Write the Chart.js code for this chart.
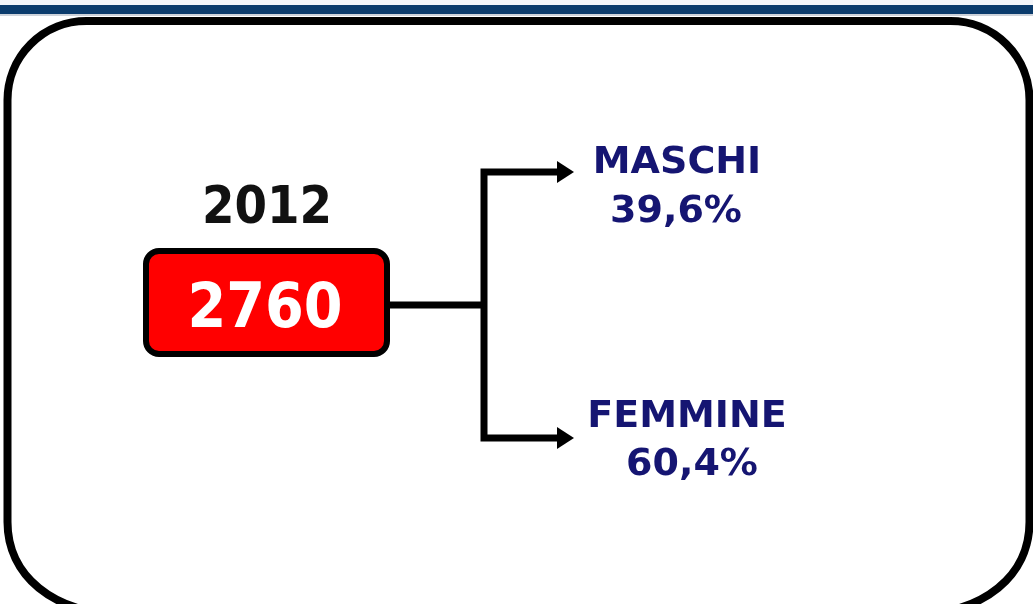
<!DOCTYPE html>
<html>
<head>
<meta charset="utf-8">
<script src="https://cdn.jsdelivr.net/npm/chart.js@4"></script>
<style>
  html, body { margin: 0; padding: 0; background: #fff; }
  canvas { display: block; }
</style>
</head>
<body>
<canvas id="chart" width="1033" height="604"></canvas>
<script>
// data
const year = '2012';
const totals = [2760];
const categories = ['MASCHI', 'FEMMINE'];
const shares = [39.6, 60.4];

// layout (axis units == pixels, x 0..1033, y 0..604 top-down)
const branchY = [172, 438];
const nameX = [677, 687];
const nameBase = [173, 427];
const pctX = [676, 692];
const pctBase = [222, 475];
const stemY = 305;
const forkX = 484;
const tipX = 574;
const FONT_NUM = '"DejaVu Sans Condensed", "DejaVu Sans", sans-serif';
const FONT_LBL = '"DejaVu Sans", sans-serif';
const NAVY = '#151572';

const fmtPct = v => v.toFixed(1).replace('.', ',') + '%';

const connectors = [
  { data: [{ x: 390, y: stemY }, { x: forkX, y: stemY }] },
  { data: [
      { x: tipX - 12, y: branchY[0] }, { x: forkX, y: branchY[0] },
      { x: forkX, y: branchY[1] }, { x: tipX - 12, y: branchY[1] }
    ] }
].map(d => ({
  ...d,
  showLine: true,
  borderColor: '#000',
  borderWidth: 7,
  borderJoinStyle: 'miter',
  borderCapStyle: 'butt',
  pointRadius: 0,
  tension: 0
}));

const framePlugin = {
  id: 'frame',
  beforeDatasetsDraw(chart) {
    const { ctx, scales: { x, y } } = chart;
    ctx.save();
    // header band
    ctx.fillStyle = '#f3f5f9';
    ctx.fillRect(0, 0, chart.width, 5);
    ctx.fillStyle = '#0b3b6c';
    ctx.fillRect(0, y.getPixelForValue(5), chart.width, 9);
    ctx.fillStyle = '#cdd2da';
    ctx.fillRect(0, y.getPixelForValue(14), chart.width, 2);

    // outer rounded frame
    const L = x.getPixelForValue(7.5), R = x.getPixelForValue(1029.5);
    const T = y.getPixelForValue(21), B = y.getPixelForValue(614);
    const r = 79;
    ctx.beginPath();
    ctx.moveTo(L + r, T);
    ctx.lineTo(R - r, T);
    ctx.arcTo(R, T, R, T + r, r);
    ctx.lineTo(R, 522);
    ctx.bezierCurveTo(R, 575, R - 45, B, R - 115, B);
    ctx.lineTo(L + 115, B);
    ctx.bezierCurveTo(L + 45, B, L, 575, L, 522);
    ctx.lineTo(L, T + r);
    ctx.arcTo(L, T, L + r, T, r);
    ctx.closePath();
    ctx.lineWidth = 8;
    ctx.strokeStyle = '#000';
    ctx.stroke();
    ctx.restore();
  },
  afterDatasetsDraw(chart) {
    const { ctx, scales: { x, y } } = chart;
    ctx.save();

    // total box
    ctx.beginPath();
    ctx.roundRect(x.getPixelForValue(146), y.getPixelForValue(251), 241, 103, 13);
    ctx.fillStyle = '#ff0000';
    ctx.fill();
    ctx.lineWidth = 6;
    ctx.strokeStyle = '#000';
    ctx.stroke();

    // arrow heads
    ctx.fillStyle = '#000';
    branchY.forEach(by => {
      const py = y.getPixelForValue(by);
      const px = x.getPixelForValue(tipX);
      ctx.beginPath();
      ctx.moveTo(px, py);
      ctx.lineTo(px - 17, py - 11);
      ctx.lineTo(px - 17, py + 11);
      ctx.closePath();
      ctx.fill();
    });

    ctx.textAlign = 'center';
    ctx.textBaseline = 'alphabetic';

    // year + total
    ctx.fillStyle = '#111';
    ctx.font = 'bold 52px ' + FONT_NUM;
    ctx.fillText(year, x.getPixelForValue(267), y.getPixelForValue(223));
    ctx.fillStyle = '#fff';
    ctx.font = 'bold 62px ' + FONT_NUM;
    ctx.fillText(String(totals[0]), x.getPixelForValue(265), y.getPixelForValue(327));

    // branch labels
    ctx.fillStyle = NAVY;
    ctx.font = 'bold 38px ' + FONT_LBL;
    categories.forEach((c, i) => {
      ctx.fillText(c, x.getPixelForValue(nameX[i]), y.getPixelForValue(nameBase[i]));
      ctx.fillText(fmtPct(shares[i]), x.getPixelForValue(pctX[i]), y.getPixelForValue(pctBase[i]));
    });
    ctx.restore();
  }
};

new Chart(document.getElementById('chart'), {
  type: 'scatter',
  data: { datasets: connectors },
  options: {
    responsive: false,
    animation: false,
    events: [],
    layout: { padding: 0 },
    plugins: { legend: { display: false }, tooltip: { enabled: false } },
    scales: {
      x: { type: 'linear', min: 0, max: 1033, display: false },
      y: { type: 'linear', min: 0, max: 604, reverse: true, display: false }
    }
  },
  plugins: [framePlugin]
});
</script>
</body>
</html>
